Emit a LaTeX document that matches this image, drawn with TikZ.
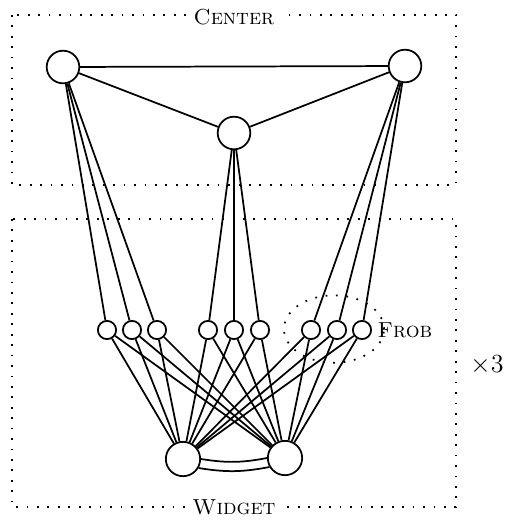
\documentclass[tikz,border=0pt]{standalone}
\usetikzlibrary{shapes.geometric}
\begin{document}
\begin{tikzpicture}[x=0.46pt,y=-0.46pt,
  big/.style={circle,draw,thick,fill=white,minimum size=15pt,inner sep=0pt},
  bot/.style={circle,draw,thick,fill=white,minimum size=15.8pt,inner sep=0pt},
  small/.style={circle,draw,thick,fill=white,minimum size=8.4pt,inner sep=0pt},
  frame/.style={draw,thick,loosely dotted},
  lbl/.style={fill=white,inner sep=3pt,font=\normalsize},
  conn/.style={thick}]
\useasboundingbox (0,0) rectangle (508,521);
% frames
\draw[frame] (12,15) rectangle (456,185);
\draw[frame] (12,219) rectangle (456,507);
\node[lbl] (clbl) at (234,17) {\textsc{Center}};
\node[lbl] (wlbl) at (234,507) {\textsc{Widget}};
\node (times) at (487,365) {\large $\times 3$};
% frob ellipse
\node[ellipse,draw,thick,loosely dotted,minimum width=46pt,minimum height=31pt] (frobe) at (334,329) {};
\node (frob) at (405,330) {\textsc{Frob}};
% nodes
\node[big] (A) at (63,67) {};
\node[big] (B) at (405,66) {};
\node[big] (C) at (234,133) {};
\node[bot] (L) at (183,459) {};
\node[bot] (R) at (285,458) {};
\foreach \i/\x in {1/107,2/132,3/157,4/208,5/234,6/260,7/311,8/337,9/362}
  \node[small] (s\i) at (\x,330) {};
% edges
\draw[conn] (A) -- (B);
\draw[conn] (A) -- (C);
\draw[conn] (C) -- (B);
\foreach \i in {1,2,3} \draw[conn] (A) -- (s\i);
\foreach \i in {4,5,6} \draw[conn] (C) -- (s\i);
\foreach \i in {7,8,9} \draw[conn] (B) -- (s\i);
\foreach \i in {1,...,9} {\draw[conn] (s\i) -- (L); \draw[conn] (s\i) -- (R);}
\draw[conn] (L.east) to[bend right=10] (R.west);
\draw[conn] (L.-30) to[bend right=10] (R.-150);
\end{tikzpicture}
\end{document}
